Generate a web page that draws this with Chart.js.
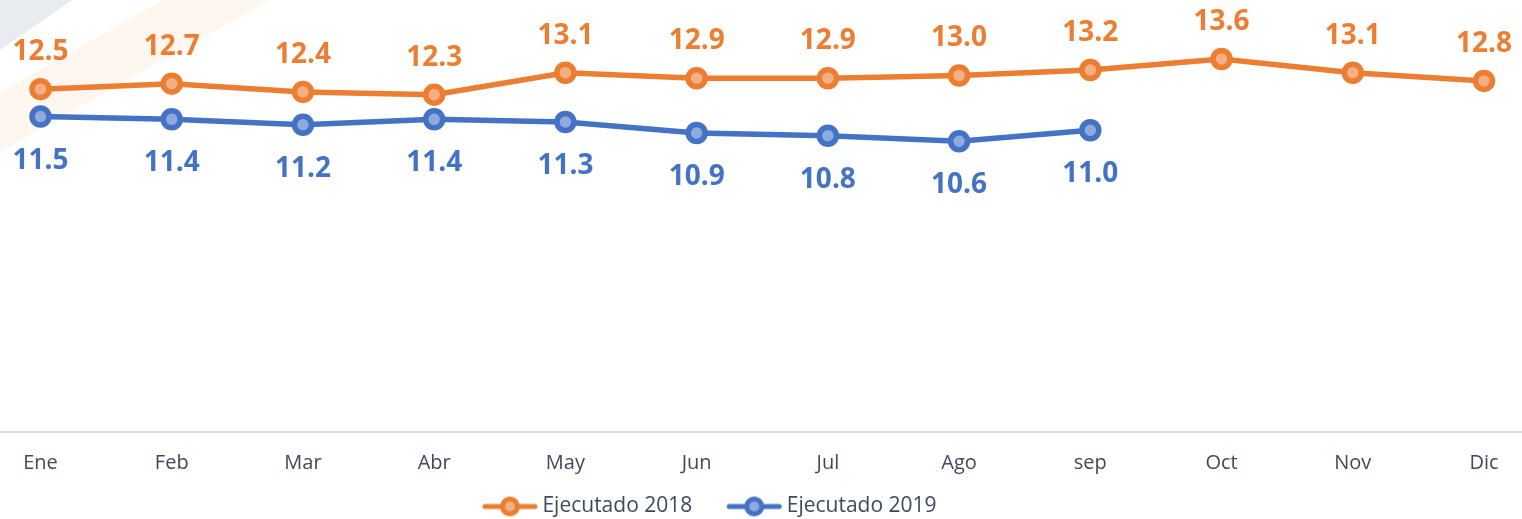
<!DOCTYPE html>
<html>
<head>
<meta charset="utf-8">
<script src="https://cdn.jsdelivr.net/npm/chart.js@4"></script>
<style>
  html, body { margin: 0; padding: 0; background: #fff; overflow: hidden; }
  #wrap { width: 1522px; height: 519px; overflow: hidden; }
</style>
</head>
<body>
<div id="wrap"><canvas id="grafico" width="1522" height="527"></canvas></div>
<script>
const meses = ['Ene', 'Feb', 'Mar', 'Abr', 'May', 'Jun', 'Jul', 'Ago', 'sep', 'Oct', 'Nov', 'Dic'];
const ejecutado2018 = [12.5, 12.7, 12.4, 12.3, 13.1, 12.9, 12.9, 13.0, 13.2, 13.6, 13.1, 12.8];
const ejecutado2019 = [11.5, 11.4, 11.2, 11.4, 11.3, 10.9, 10.8, 10.6, 11.0, null, null, null];

const NARANJA = '#ED7D31', NARANJA_CLARO = '#F3AF85';
const AZUL = '#4472C4', AZUL_CLARO = '#8FAADC';
const TEXTO = '#3E4A5C';

// line + dot legend marker; blank space on the left spaces the items apart
function marcador(color, relleno) {
  const c = document.createElement('canvas');
  c.width = 90; c.height = 24;
  const g = c.getContext('2d');
  const a = 32;
  g.strokeStyle = color;
  g.lineWidth = 5;
  g.lineCap = 'round';
  g.beginPath(); g.moveTo(a + 3, 12); g.lineTo(a + 53, 12); g.stroke();
  g.beginPath(); g.arc(a + 28, 12, 7.5, 0, Math.PI * 2);
  g.fillStyle = relleno; g.fill();
  g.stroke();
  return c;
}
const marcadores = [marcador(NARANJA, NARANJA_CLARO), marcador(AZUL, AZUL_CLARO)];

// faint corner decoration behind the plot
const fondo = {
  id: 'fondo',
  beforeDraw(chart) {
    const ctx = chart.ctx;
    ctx.save();
    ctx.fillStyle = '#E8EBF0';
    ctx.beginPath(); ctx.moveTo(0, 0); ctx.lineTo(72, 0); ctx.lineTo(0, 50); ctx.closePath(); ctx.fill();
    ctx.fillStyle = '#FEF7F0';
    ctx.beginPath(); ctx.moveTo(163, 0); ctx.lineTo(270, 0); ctx.lineTo(0, 152); ctx.lineTo(0, 93); ctx.closePath(); ctx.fill();
    ctx.restore();
  }
};

// horizontal base line across the whole width at zero
const lineaBase = {
  id: 'lineaBase',
  beforeDatasetsDraw(chart) {
    const y = chart.scales.y.getPixelForValue(0);
    const ctx = chart.ctx;
    ctx.save();
    ctx.strokeStyle = '#D9D9D9';
    ctx.lineWidth = 2;
    ctx.beginPath(); ctx.moveTo(0, y); ctx.lineTo(chart.width, y); ctx.stroke();
    ctx.restore();
  }
};

// legend sits a bit left of centre
const legendaIzq = {
  id: 'legendaIzq',
  afterLayout(chart) {
    chart.legend.left -= 65;
    chart.legend.right -= 65;
  }
};

// value labels: above for 2018, below for 2019
const etiquetas = {
  id: 'etiquetas',
  afterDatasetsDraw(chart) {
    const ctx = chart.ctx;
    ctx.save();
    ctx.font = 'bold 28px "Open Sans"';
    ctx.textAlign = 'center';
    ctx.textBaseline = 'middle';
    chart.data.datasets.forEach((ds, i) => {
      const meta = chart.getDatasetMeta(i);
      ctx.fillStyle = ds.borderColor;
      meta.data.forEach((pt, j) => {
        const v = ds.data[j];
        if (v == null) return;
        const dy = i === 0 ? -37 : 44;
        ctx.fillText(v.toFixed(1), pt.x, pt.y + dy);
      });
    });
    ctx.restore();
  }
};

new Chart(document.getElementById('grafico'), {
  type: 'line',
  data: {
    labels: meses,
    datasets: [
      {
        label: 'Ejecutado 2018',
        data: ejecutado2018,
        borderColor: NARANJA,
        backgroundColor: NARANJA_CLARO,
        pointBackgroundColor: NARANJA_CLARO,
        borderWidth: 5.5,
        pointRadius: 8.5,
        pointBorderWidth: 5.5,
        tension: 0,
        clip: false
      },
      {
        label: 'Ejecutado 2019',
        data: ejecutado2019,
        borderColor: AZUL,
        backgroundColor: AZUL_CLARO,
        pointBackgroundColor: AZUL_CLARO,
        borderWidth: 5.5,
        pointRadius: 8.5,
        pointBorderWidth: 5.5,
        tension: 0,
        clip: false
      }
    ]
  },
  options: {
    responsive: false,
    devicePixelRatio: 1,
    animation: false,
    layout: { autoPadding: false, padding: { left: 40.5, right: 38, top: 0, bottom: 0 } },
    scales: {
      x: {
        offset: false,
        grid: { display: false, drawTicks: false },
        border: { display: false },
        ticks: { color: TEXTO, font: { family: 'Open Sans', size: 20 }, padding: 19, maxRotation: 0, autoSkip: false },
        afterFit(s) { s.height = 54; }
      },
      y: {
        display: false,
        min: 0,
        max: 15.75
      }
    },
    plugins: {
      legend: {
        position: 'bottom',
        labels: {
          color: TEXTO,
          font: { family: 'Open Sans', size: 21 },
          usePointStyle: true,
          pointStyleWidth: 74,
          padding: 10,
          generateLabels(chart) {
            const items = Chart.defaults.plugins.legend.labels.generateLabels(chart);
            items.forEach((it, i) => { it.pointStyle = marcadores[i]; });
            return items;
          }
        }
      },
      tooltip: { enabled: false }
    }
  },
  plugins: [fondo, lineaBase, legendaIzq, etiquetas]
});
</script>
</body>
</html>
